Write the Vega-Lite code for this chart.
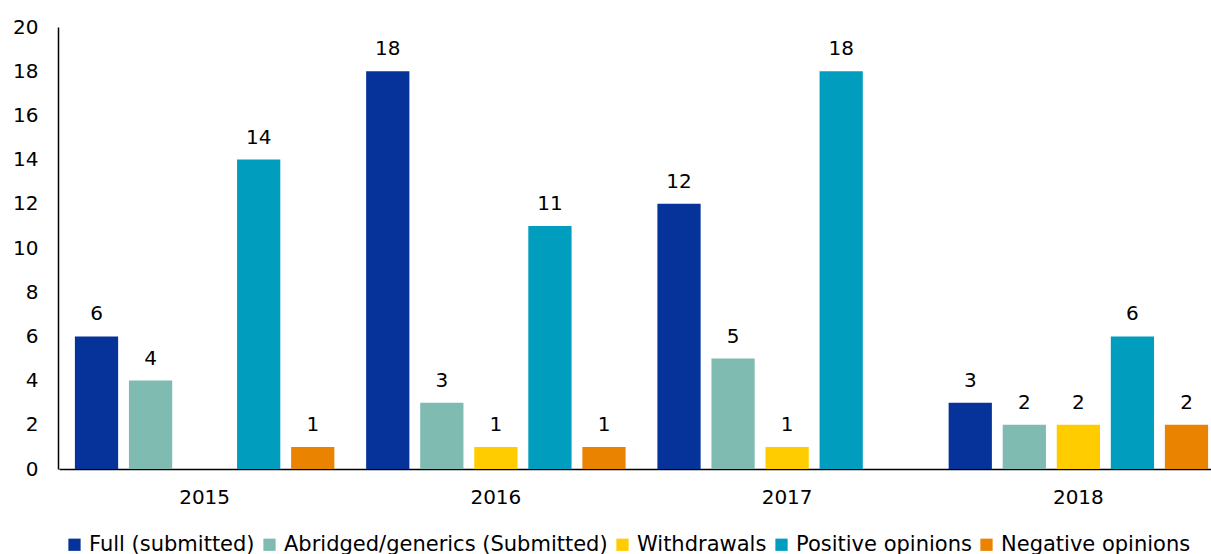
{
  "$schema": "https://vega.github.io/schema/vega-lite/v6.json",
  "width": 1153,
  "height": 442,
  "autosize": "none",
  "padding": {"left": 58, "top": 27, "right": 0, "bottom": 85},
  "background": "white",
  "config": {
    "font": "DejaVu Sans",
    "view": {"stroke": null},
    "axis": {"grid": false, "ticks": false, "domainColor": "#000000", "domainWidth": 1.5, "labelColor": "#000000", "labelFontSize": 20, "labelFont": "DejaVu Sans"},
    "legend": {"labelFont": "DejaVu Sans"}
  },
  "data": {
    "values": [
      {"year": "2015", "series": "Full (submitted)", "value": 6},
      {"year": "2015", "series": "Abridged/generics (Submitted)", "value": 4},
      {"year": "2015", "series": "Withdrawals", "value": 0},
      {"year": "2015", "series": "Positive opinions", "value": 14},
      {"year": "2015", "series": "Negative opinions", "value": 1},
      {"year": "2016", "series": "Full (submitted)", "value": 18},
      {"year": "2016", "series": "Abridged/generics (Submitted)", "value": 3},
      {"year": "2016", "series": "Withdrawals", "value": 1},
      {"year": "2016", "series": "Positive opinions", "value": 11},
      {"year": "2016", "series": "Negative opinions", "value": 1},
      {"year": "2017", "series": "Full (submitted)", "value": 12},
      {"year": "2017", "series": "Abridged/generics (Submitted)", "value": 5},
      {"year": "2017", "series": "Withdrawals", "value": 1},
      {"year": "2017", "series": "Positive opinions", "value": 18},
      {"year": "2017", "series": "Negative opinions", "value": 0},
      {"year": "2018", "series": "Full (submitted)", "value": 3},
      {"year": "2018", "series": "Abridged/generics (Submitted)", "value": 2},
      {"year": "2018", "series": "Withdrawals", "value": 2},
      {"year": "2018", "series": "Positive opinions", "value": 6},
      {"year": "2018", "series": "Negative opinions", "value": 2}
    ]
  },
  "encoding": {
    "x": {
      "field": "year", "type": "nominal", "title": null,
      "scale": {"range": [1, 1166], "paddingInner": 0, "paddingOuter": 0},
      "axis": {"labelAngle": 0, "labelPadding": 18}
    },
    "xOffset": {
      "field": "series", "type": "nominal",
      "sort": ["Full (submitted)", "Abridged/generics (Submitted)", "Withdrawals", "Positive opinions", "Negative opinions"],
      "scale": {"paddingInner": 0.2, "paddingOuter": 0.294}
    },
    "y": {
      "field": "value", "type": "quantitative", "title": null,
      "scale": {"domain": [0, 20], "nice": false},
      "axis": {"values": [0, 2, 4, 6, 8, 10, 12, 14, 16, 18, 20], "labelPadding": 20}
    }
  },
  "layer": [
    {
      "mark": {"type": "bar"},
      "encoding": {
        "color": {
          "field": "series", "type": "nominal",
          "sort": ["Full (submitted)", "Abridged/generics (Submitted)", "Withdrawals", "Positive opinions", "Negative opinions"],
          "scale": {
            "domain": ["Full (submitted)", "Abridged/generics (Submitted)", "Withdrawals", "Positive opinions", "Negative opinions"],
            "range": ["#053399", "#7FBBB1", "#FFCC00", "#009DBE", "#E98300"]
          },
          "legend": {
            "title": null,
            "orient": "none",
            "direction": "horizontal",
            "legendX": 6,
            "legendY": 507,
            "symbolType": "square",
            "symbolSize": 150,
            "symbolStrokeWidth": 0,
            "labelFontSize": 21,
            "labelLimit": 0,
            "labelColor": "#000000",
            "labelOffset": 4,
            "columnPadding": 4,
            "symbolOpacity": 1
          }
        }
      }
    },
    {
      "transform": [{"filter": "datum.value > 0"}],
      "mark": {"type": "text", "baseline": "alphabetic", "dy": -16, "fontSize": 20, "color": "#000000"},
      "encoding": {
        "text": {"field": "value", "type": "quantitative"}
      }
    }
  ]
}
